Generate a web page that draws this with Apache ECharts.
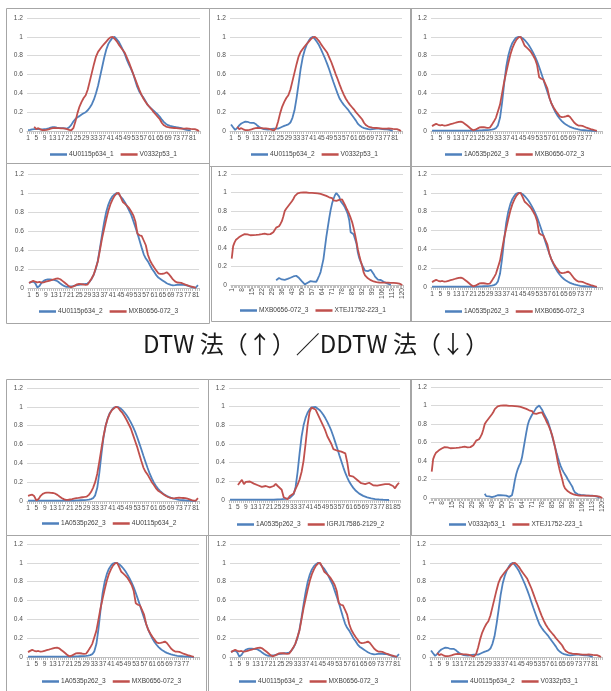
<!DOCTYPE html>
<html>
<head>
<meta charset="utf-8">
<script src="https://cdn.jsdelivr.net/npm/echarts/dist/echarts.min.js"></script>
<style>
html,body{margin:0;padding:0;background:#fff}
#c{width:611px;height:691px}
</style>
</head>
<body>
<div id="c"></div>
<script>
// Normalised light-curve profiles (peak = 1)
const P4U0115_1 = [0.01,0.012,0.018,0.02,0.022,0.02,0.018,0.017,0.02,0.022,0.028,0.035,0.04,0.04,0.036,0.033,0.031,0.03,0.028,0.026,
0.04,0.065,0.1,0.128,0.145,0.158,0.175,0.188,0.2,0.22,0.25,0.285,0.335,0.4,0.48,0.58,0.68,0.78,0.865,0.925,
0.96,0.99,1.0,0.975,0.95,0.91,0.865,0.815,0.755,0.705,0.66,0.61,0.54,0.47,0.42,0.385,0.355,0.32,0.28,0.255,
0.235,0.215,0.195,0.175,0.15,0.12,0.095,0.075,0.062,0.055,0.05,0.045,0.04,0.037,0.033,0.025,0.017,0.013,0.01,0.008];

const PV0332_1 = [null,null,null,0.045,0.02,0.03,0.018,0.01,0.01,0.013,0.018,0.025,0.03,0.032,0.03,0.03,0.028,0.027,0.025,0.02,
0.012,0.008,0.03,0.1,0.19,0.26,0.31,0.35,0.38,0.44,0.53,0.62,0.71,0.79,0.84,0.87,0.9,0.925,0.95,0.975,
0.995,1.0,0.98,0.955,0.92,0.89,0.86,0.83,0.78,0.73,0.67,0.61,0.555,0.495,0.44,0.39,0.345,0.31,0.28,0.255,
0.23,0.2,0.175,0.15,0.125,0.085,0.06,0.047,0.04,0.036,0.034,0.032,0.03,0.028,0.026,0.025,0.026,0.027,0.025,0.022,
0.02,0.02,0.012,0.0];

// 4U0115p634_2 as aligned against V0332p53_1
const P4U0115_2a = [0.07,0.04,0.012,0.03,0.06,0.08,0.09,0.1,0.098,0.09,0.086,0.087,0.075,0.055,0.038,0.028,0.02,0.017,0.015,0.018,
0.022,0.025,0.025,0.025,0.035,0.045,0.055,0.062,0.07,0.09,0.14,0.22,0.35,0.5,0.66,0.78,0.86,0.92,0.96,0.99,
1.0,0.975,0.945,0.91,0.865,0.815,0.765,0.71,0.65,0.585,0.52,0.46,0.4,0.345,0.31,0.28,0.255,0.23,0.2,0.17,
0.14,0.11,0.075,0.055,0.04,0.03,0.025,0.02,0.018,0.02,0.022,0.025,0.025,0.023,0.02,0.018,0.018,0.015,0.008,0.005];

// 4U0115p634_2 as aligned against MXB0656-072_3 / 1A0535p262_3
const P4U0115_2b = [0.055,0.062,0.068,0.05,0.005,0.02,0.055,0.075,0.085,0.09,0.09,0.087,0.085,0.078,0.065,0.048,0.032,0.02,0.012,0.012,
0.016,0.02,0.025,0.03,0.033,0.037,0.04,0.043,0.047,0.065,0.095,0.14,0.2,0.29,0.42,0.56,0.69,0.8,0.875,0.93,
0.965,0.985,1.0,0.99,0.96,0.935,0.9,0.86,0.815,0.77,0.705,0.64,0.575,0.5,0.425,0.355,0.31,0.28,0.24,0.2,
0.17,0.135,0.11,0.095,0.08,0.065,0.05,0.04,0.032,0.028,0.03,0.033,0.035,0.034,0.032,0.03,0.025,0.018,0.01,0.005,
0.005,0.03];

const P1A0535_3 = [0.003,0.003,0.003,0.003,0.003,0.003,0.003,0.003,0.003,0.003,0.003,0.003,0.003,0.003,0.003,0.003,0.003,0.003,0.003,0.003,
0.003,0.004,0.005,0.006,0.007,0.008,0.009,0.01,0.012,0.015,0.02,0.03,0.06,0.14,0.3,0.5,0.68,0.8,0.88,0.935,
0.97,0.993,1.0,0.997,0.985,0.965,0.94,0.91,0.875,0.835,0.79,0.74,0.68,0.615,0.55,0.48,0.415,0.35,0.29,0.24,
0.195,0.16,0.13,0.105,0.085,0.068,0.055,0.044,0.035,0.028,0.022,0.017,0.013,0.01,0.008,0.006,0.004,0.003,0.002,0.001,
0.0];

const PMXB0656_3 = [0.052,0.065,0.075,0.066,0.06,0.064,0.056,0.06,0.066,0.072,0.078,0.085,0.092,0.098,0.1,0.092,0.075,0.058,0.04,0.02,
0.007,0.014,0.025,0.038,0.042,0.04,0.037,0.033,0.035,0.065,0.1,0.14,0.21,0.28,0.4,0.52,0.62,0.72,0.81,0.88,
0.93,0.97,0.995,1.0,0.955,0.905,0.885,0.865,0.84,0.805,0.765,0.7,0.57,0.555,0.548,0.5,0.45,0.35,0.29,0.25,
0.215,0.185,0.155,0.148,0.15,0.155,0.165,0.148,0.12,0.09,0.07,0.058,0.056,0.054,0.045,0.035,0.028,0.02,0.014,0.008,
0.002];

const PXTEJ1752_1 = [0.285,0.42,0.46,0.49,0.5,0.515,0.525,0.535,0.54,0.55,0.555,0.548,0.54,0.538,0.54,0.54,0.54,0.542,0.545,0.545,
0.548,0.55,0.553,0.556,0.552,0.548,0.546,0.55,0.556,0.57,0.595,0.62,0.628,0.635,0.66,0.69,0.74,0.8,0.825,0.845,
0.865,0.885,0.905,0.93,0.96,0.98,0.99,0.996,0.998,1.0,1.0,1.0,1.0,0.998,0.997,0.996,0.995,0.994,0.993,0.992,
0.99,0.988,0.985,0.98,0.975,0.97,0.963,0.955,0.948,0.955,0.94,0.915,0.9,0.91,0.918,0.92,0.924,0.925,0.895,0.865,
0.83,0.8,0.765,0.725,0.68,0.62,0.55,0.47,0.385,0.32,0.26,0.205,0.14,0.105,0.085,0.072,0.062,0.052,0.045,0.038,
0.032,0.03,0.028,0.027,0.026,0.025,0.025,0.025,0.025,0.025,0.025,0.024,0.024,0.023,0.022,0.021,0.02,0.015,0.008,0.0];

const PIGRJ17586_2 = [null,null,null,null,0.16,0.19,0.215,0.17,0.195,0.2,0.198,0.185,0.175,0.165,0.158,0.145,0.14,0.158,0.15,0.14,
0.135,0.14,0.15,0.172,0.15,0.135,0.11,0.03,0.05,0.008,0.04,0.02,0.07,0.12,0.165,0.22,0.3,0.42,0.6,0.8,
0.94,0.99,1.0,0.97,0.925,0.88,0.835,0.79,0.74,0.68,0.64,0.6,0.545,0.53,0.528,0.523,0.518,0.51,0.5,0.4,
0.26,0.24,0.25,0.23,0.215,0.225,0.18,0.175,0.17,0.16,0.185,0.165,0.158,0.15,0.155,0.16,0.163,0.166,0.17,0.172,
0.17,0.165,0.15,0.125,0.16,0.185];

// Where a shorter profile begins on the 120-point axis
const START_MXB_ON_120 = 31;
const START_V0332_ON_120 = 34;
const leadGap = (k, arr) => new Array(k).fill(null).concat(arr);

const BLUE = '#4F81BD', RED = '#C0504D';
const FONT = '"Liberation Sans", Arial, sans-serif';

// x-axis category labels 1..n
const cats = n => Array.from({length: n}, (_, i) => String(i + 1));

const every4 = i => i % 4 === 0;
const every4to77 = i => i % 4 === 0 && i <= 76;
const every7 = i => i % 7 === 0;

// Panel layout: plot box [left, top, width, height], legend [left, top]
const panels = [
  {box:[27,18,173,113],  leg:[50,151],  n:84,  lab:every4, s:[['4U0115p634_1',P4U0115_1,BLUE],['V0332p53_1',PV0332_1,RED]]},
  {box:[230,18,172,113], leg:[251,151], n:84,  lab:every4, s:[['4U0115p634_2',P4U0115_2a,BLUE],['V0332p53_1',PV0332_1,RED]]},
  {box:[431,18,171,113], leg:[445,151], n:83,  lab:every4to77, s:[['1A0535p262_3',P1A0535_3,BLUE],['MXB0656-072_3',PMXB0656_3,RED]]},
  {box:[28,174,171,114], leg:[39,308],  n:82,  lab:every4, s:[['4U0115p634_2',P4U0115_2b,BLUE],['MXB0656-072_3',PMXB0656_3,RED]]},
  {box:[231,174,172,111],leg:[240,307], n:120, lab:every7, rot:true, s:[['MXB0656-072_3',leadGap(START_MXB_ON_120,PMXB0656_3),BLUE],['XTEJ1752-223_1',PXTEJ1752_1,RED]]},
  {box:[431,174,171,113],leg:[445,308], n:83,  lab:every4to77, s:[['1A0535p262_3',P1A0535_3,BLUE],['MXB0656-072_3',PMXB0656_3,RED]]},
  {box:[27,388,172,113], leg:[42,520],  n:82,  lab:every4, s:[['1A0535p262_3',P1A0535_3,BLUE],['4U0115p634_2',P4U0115_2b,RED]]},
  {box:[229,388,171,112],leg:[237,521], n:86,  lab:every4, s:[['1A0535p262_3',P1A0535_3,BLUE],['IGRJ17586-2129_2',PIGRJ17586_2,RED]]},
  {box:[431,387,172,111],leg:[449,521], n:120, lab:every7, rot:true, s:[['V0332p53_1',leadGap(START_V0332_ON_120,PV0332_1),BLUE],['XTEJ1752-223_1',PXTEJ1752_1,RED]]},
  {box:[27,544,172,113], leg:[42,678],  n:83,  lab:every4to77, s:[['1A0535p262_3',P1A0535_3,BLUE],['MXB0656-072_3',PMXB0656_3,RED]]},
  {box:[230,544,170,113],leg:[239,678], n:82,  lab:every4, s:[['4U0115p634_2',P4U0115_2b,BLUE],['MXB0656-072_3',PMXB0656_3,RED]]},
  {box:[430,544,172,113],leg:[451,678], n:84,  lab:every4, s:[['4U0115p634_2',P4U0115_2a,BLUE],['V0332p53_1',PV0332_1,RED]]}
];

// Chart-area frames around each small chart
const frames = [
  [6,8,203,155],[209,8,202,158],[410,8,201,158],
  [6,163,203,160],[211,166,200,155],[410,166,201,155],
  [6,379,202,156],[208,379,203,156],[410,379,201,156],
  [6,535,202,156],[206,535,204,156],[410,535,201,156]
];

const grid = [], xAxis = [], yAxis = [], series = [], legend = [];
panels.forEach((p, k) => {
  grid.push({left:p.box[0], top:p.box[1], width:p.box[2], height:p.box[3], containLabel:false});
  xAxis.push({
    type:'category', gridIndex:k, data:cats(p.n), boundaryGap:true,
    axisLine:{show:true, lineStyle:{color:'#bfbfbf', width:1}},
    axisTick:{show:true, interval:0, length:3, lineStyle:{color:'#bfbfbf'}},
    splitLine:{show:false},
    axisLabel:{interval:(i)=>p.lab(i), rotate:p.rot?90:0, fontSize:6.6, fontFamily:FONT, color:'#505050', margin:p.rot?3:4, hideOverlap:false}
  });
  yAxis.push({
    type:'value', gridIndex:k, min:0, max:1.2, interval:0.2,
    axisLine:{show:false}, axisTick:{show:false},
    splitLine:{lineStyle:{color:'#d9d9d9', width:1}},
    axisLabel:{fontSize:6.6, fontFamily:FONT, color:'#505050', margin:4,
      formatter:v => String(Math.round(v*10)/10)}
  });
  const legData = [];
  p.s.forEach(([name, data, color]) => {
    series.push({
      type:'line', name, data, xAxisIndex:k, yAxisIndex:k,
      symbol:'none', smooth:false, connectNulls:false,
      lineStyle:{color, width:1.8}, itemStyle:{color},
      animation:false
    });
    legData.push({name, itemStyle:{color}});
  });
  legend.push({
    left:p.leg[0], top:p.leg[1], orient:'horizontal', icon:'rect',
    itemWidth:17, itemHeight:2.5, itemGap:7, padding:0,
    selectedMode:false, data:legData,
    textStyle:{fontSize:6.6, fontFamily:FONT, color:'#404040', padding:[0,0,0,-3]}
  });
});

const graphic = frames.map(f => ({
  type:'rect', silent:true, z:-1,
  shape:{x:f[0]+0.5, y:f[1]+0.5, width:f[2], height:f[3]},
  style:{fill:null, stroke:'#a6a6a6', lineWidth:1}
}));
graphic.push({
  type:'text', silent:true, left:143, top:332,
  style:{text:'DTW 法（↑）／DDTW 法（↓）', font:'24px "Noto Sans CJK JP", "Noto Sans", sans-serif', fill:'#1a1a1a'}
});

const chart = echarts.init(document.getElementById('c'), null, {renderer:'canvas'});
chart.setOption({animation:false, backgroundColor:'#fff', grid, xAxis, yAxis, series, legend, graphic});
</script>
</body>
</html>
